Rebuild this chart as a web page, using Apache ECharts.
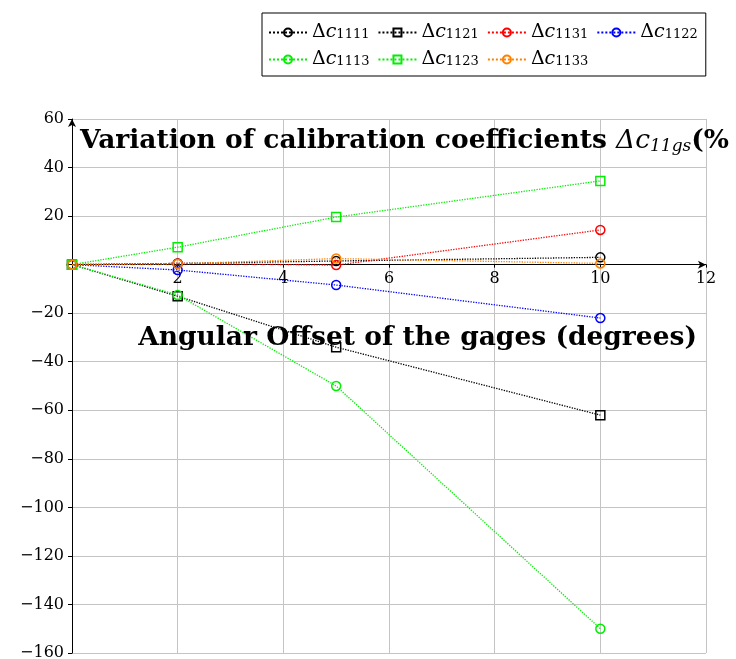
<!DOCTYPE html>
<html>
<head>
<meta charset="utf-8">
<script src="https://cdn.jsdelivr.net/npm/echarts@6/dist/echarts.min.js"></script>
<style>
  html, body { margin: 0; padding: 0; background: #fff; }
  #chart { width: 736px; height: 659px; }
</style>
</head>
<body>
<div id="chart"></div>
<script>
// angular offsets (degrees)
var offsets = [0, 2, 5, 10]
var c1111 = [0, 0.5, 1.5, 3]
var c1121 = [0, -13, -34, -62]
var c1131 = [0, 0.5, -0.2, 14.3]
var c1122 = [0, -2.2, -8.4, -22]
var c1113 = [0, -12.5, -50, -150]
var c1123 = [0, 7.2, 19.6, 34.5]
var c1133 = [0, 0.3, 2.5, 0.5]
var legendNames = ['1111', '1121', '1131', '1122', '1113', '1123', '1133']
var xMin = 0, xMax = 12, xStep = 2
var yMin = -160, yMax = 60, yStep = 20

var serif = '"DejaVu Serif", "Liberation Serif", serif'

// grid box in pixels
var gTop = 119, gBottom = 6, gLeft = 72, gRight = 30
var gH = 659 - gTop - gBottom
var zeroFromBottom = gH * (0 - yMin) / (yMax - yMin)

function pairs(ys) {
    return offsets.map(function (x, i) { return [x, ys[i]] })
}

function mkSeries(name, ys, color, symbol) {
    return {
        name: name,
        type: 'line',
        data: pairs(ys),
        symbol: symbol,
        symbolSize: 9,
        lineStyle: { color: color, width: 1.3, type: 'dotted' },
        itemStyle: { color: 'rgba(255,255,255,0)', borderColor: color, borderWidth: 1.5 },
        emphasis: { disabled: true },
        z: 3
    }
}

var chart = echarts.init(document.getElementById('chart'))

var option = {
    animation: false,
    title: [
        {
            text: 'Variation of calibration coefficients {m|Δc}{s|11gs}(%',
            left: 80, top: 128, padding: 0,
            textStyle: {
                fontFamily: serif, fontWeight: 'bold', fontSize: 26.5, color: '#000',
                rich: {
                    m: { fontFamily: serif, fontSize: 26.5, fontStyle: 'italic', fontWeight: 'normal', color: '#000' },
                    s: { fontFamily: serif, fontSize: 17, fontStyle: 'italic', fontWeight: 'normal', color: '#000', verticalAlign: 'bottom', lineHeight: 16 }
                }
            }
        },
        {
            text: 'Angular Offset of the gages (degrees)',
            right: 39, top: 325, padding: 0,
            textStyle: { fontFamily: serif, fontWeight: 'bold', fontSize: 26.5, color: '#000' }
        }
    ],
    legend: {
        left: 262, top: 13, width: 432,
        padding: [10, 8, 7, 6],
        borderColor: '#000', borderWidth: 1,
        backgroundColor: '#fff',
        itemWidth: 38, itemHeight: 10, itemGap: 8,
        formatter: function (name) { return '{d|Δ}{c|c}{s|' + name + '}' },
        textStyle: {
            fontFamily: serif, fontSize: 19, color: '#000',
            rich: {
                d: { fontFamily: serif, fontSize: 19, color: '#000', lineHeight: 17 },
                c: { fontFamily: serif, fontSize: 19, fontStyle: 'italic', color: '#000', lineHeight: 17 },
                s: { fontFamily: serif, fontSize: 13, color: '#000', verticalAlign: 'bottom', lineHeight: 12 }
            }
        },
        data: legendNames
    },
    grid: { left: gLeft, right: gRight, top: gTop, bottom: gBottom, containLabel: false, outerBoundsMode: 'none' },
    xAxis: {
        type: 'value', min: xMin, max: xMax, interval: xStep,
        position: 'bottom', offset: -zeroFromBottom,
        axisLine: { onZero: false, lineStyle: { color: '#000', width: 1 }, symbol: ['none', 'arrow'], symbolSize: [6, 8] },
        axisTick: { show: true, inside: false, length: 3, lineStyle: { color: '#000' } },
        axisLabel: {
            fontFamily: serif, fontSize: 16, color: '#000', margin: 6,
            formatter: function (v) { return v === 0 ? '' : String(v) }
        },
        splitLine: { show: true, lineStyle: { color: '#c4c4c4', width: 1 } }
    },
    yAxis: {
        type: 'value', min: yMin, max: yMax, interval: yStep,
        axisLine: { onZero: false, lineStyle: { color: '#000', width: 1 }, symbol: ['none', 'arrow'], symbolSize: [6, 8] },
        axisTick: { show: true, inside: false, length: 4, lineStyle: { color: '#000' } },
        axisLabel: {
            fontFamily: serif, fontSize: 16, color: '#000', margin: 8,
            formatter: function (v) { return v === 0 ? '' : (v < 0 ? '\u2212' + (-v) : String(v)) }
        },
        splitLine: { show: true, lineStyle: { color: '#c4c4c4', width: 1 } }
    },
    series: [
        mkSeries('1111', c1111, '#000000', 'circle'),
        mkSeries('1121', c1121, '#000000', 'rect'),
        mkSeries('1131', c1131, '#ff0000', 'circle'),
        mkSeries('1122', c1122, '#0000ff', 'circle'),
        mkSeries('1113', c1113, '#00ee00', 'circle'),
        mkSeries('1123', c1123, '#00ee00', 'rect'),
        mkSeries('1133', c1133, '#ff8000', 'circle')
    ]
}
chart.setOption(option)
</script>
</body>
</html>
